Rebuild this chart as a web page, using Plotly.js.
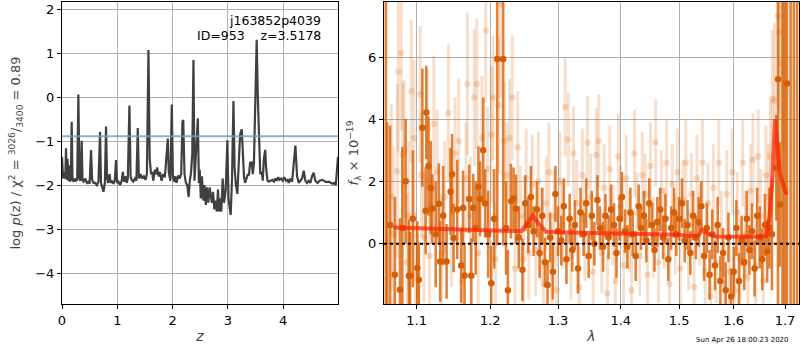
<!DOCTYPE html>
<html><head><meta charset="utf-8">
<script src="https://cdn.plot.ly/plotly-3.0.1.min.js"></script>
<style>html,body{margin:0;padding:0;background:#fff}#plot{width:800px;height:350px}</style>
</head><body><div id="plot"></div>
<script>
// ---- left panel: log p(z) ----
const zGrid = [0.00,0.02,0.04,0.06,0.072,0.085,0.10,0.115,0.13,0.145,0.16,0.175,0.19,0.21,0.23,0.25,0.275,0.296,0.315,0.335,0.356,0.37,0.39,0.42,0.45,0.48,0.50,0.525,0.545,0.57,0.60,0.63,0.66,0.688,0.705,0.73,0.75,0.775,0.796,0.815,0.835,0.86,0.88,0.90,0.93,0.955,0.977,0.995,1.02,1.05,1.08,1.10,1.12,1.15,1.17,1.19,1.219,1.24,1.26,1.29,1.32,1.345,1.37,1.39,1.42,1.45,1.48,1.51,1.535,1.563,1.585,1.61,1.63,1.65,1.68,1.70,1.72,1.745,1.77,1.80,1.83,1.86,1.89,1.913,1.93,1.96,1.985,2.005,2.03,2.05,2.07,2.10,2.13,2.155,2.178,2.192,2.215,2.24,2.265,2.29,2.31,2.33,2.355,2.377,2.395,2.42,2.44,2.456,2.475,2.49,2.51,2.53,2.555,2.575,2.60,2.62,2.645,2.67,2.69,2.71,2.73,2.755,2.775,2.80,2.82,2.84,2.86,2.88,2.905,2.93,2.96,2.99,3.01,3.035,3.05,3.075,3.10,3.12,3.14,3.17,3.195,3.22,3.25,3.27,3.29,3.31,3.33,3.36,3.38,3.40,3.43,3.45,3.47,3.495,3.52,3.54,3.56,3.585,3.61,3.63,3.65,3.674,3.69,3.715,3.74,3.77,3.80,3.83,3.86,3.88,3.91,3.93,3.96,3.99,4.02,4.05,4.08,4.10,4.13,4.16,4.18,4.22,4.25,4.28,4.31,4.34,4.37,4.40,4.43,4.46,4.49,4.52,4.55,4.58,4.62,4.66,4.70,4.74,4.78,4.82,4.86,4.89,4.92,4.95,4.99];
const logPz = [-1.36,-1.85,-1.70,-1.85,-1.16,-1.88,-1.40,-1.90,-1.55,-1.92,-1.85,-0.56,-1.88,-1.92,-1.85,-1.90,-1.88,0.06,-1.85,-1.90,-0.99,-1.88,-1.92,-1.85,-1.95,-1.92,-1.97,-1.20,-1.88,-1.95,-1.95,-2.00,-1.92,-0.79,-1.95,-2.05,-2.15,-1.95,-0.67,-1.85,-1.95,-1.75,-1.95,-1.90,-1.97,-1.88,-1.43,-1.95,-1.92,-2.00,-1.90,-1.70,-1.92,-1.80,-1.95,-1.85,-0.19,-1.80,-1.88,-1.92,-1.85,-1.90,-0.70,-1.85,-1.75,-1.85,-1.80,-1.88,-1.75,1.07,-1.40,-1.75,-1.70,-1.90,-1.65,-1.75,-1.60,-1.80,-1.70,-1.90,-1.75,-1.82,-1.30,-0.94,-1.70,-1.90,-0.17,-1.80,-1.92,-1.80,-1.95,-1.78,-1.85,-1.75,-0.56,-0.52,-1.75,-1.95,-2.00,-2.27,-1.90,-1.75,-1.30,0.84,-1.90,-1.40,-0.80,-0.48,-1.95,-1.65,-2.30,-1.80,-2.35,-2.00,-2.45,-2.05,-2.40,-2.05,-2.25,-2.40,-2.15,-2.55,-2.35,-2.60,-2.10,-2.60,-2.30,-2.60,-1.85,-2.40,-2.10,-0.98,-2.30,-2.55,-2.68,-1.80,-0.09,-1.60,-1.95,-2.20,-1.60,-0.85,-0.73,-1.20,-1.80,-1.95,-1.85,-1.75,-1.78,-1.50,-1.47,-1.75,-1.50,0.20,1.30,0.00,-1.00,-1.75,-1.70,-1.90,-1.40,-1.20,-1.60,-1.90,-1.92,-1.90,-1.88,-1.92,-1.85,-1.90,-1.82,-1.88,-1.85,-1.90,-1.82,-1.90,-1.88,-1.95,-1.85,-1.92,-1.60,-1.10,-1.80,-1.95,-1.90,-1.85,-1.67,-1.90,-1.95,-1.90,-1.95,-1.80,-1.72,-1.90,-1.95,-1.90,-1.88,-1.90,-1.93,-1.92,-1.95,-1.97,-1.95,-2.00,-1.36];
const chi2Level = -0.89;
const leftYTicks = [-4,-3,-2,-1,0,1,2];
const leftXTicks = [0,1,2,3,4];

// ---- right panel: spectrum ----
const darkWave = [1.0607,1.0624,1.066,1.072,1.0785,1.0815,1.0857,1.090,1.0915,1.095,1.1009,1.1028,1.1074,1.1117,1.1126,1.1155,1.1184,1.1205,1.125,1.1292,1.131,1.135,1.1396,1.1449,1.147,1.149,1.154,1.1594,1.162,1.164,1.1705,1.1733,1.176,1.1795,1.1833,1.1856,1.190,1.1927,1.197,1.2013,1.2055,1.2099,1.2184,1.2225,1.2252,1.2296,1.2334,1.2370,1.241,1.2465,1.2505,1.255,1.259,1.263,1.268,1.272,1.276,1.280,1.284,1.288,1.292,1.296,1.300,1.305,1.309,1.313,1.318,1.322,1.326,1.331,1.335,1.340,1.344,1.348,1.353,1.357,1.362,1.366,1.371,1.375,1.380,1.384,1.389,1.393,1.398,1.402,1.407,1.411,1.416,1.420,1.425,1.430,1.434,1.439,1.443,1.448,1.453,1.457,1.462,1.467,1.472,1.476,1.481,1.486,1.491,1.495,1.500,1.505,1.510,1.515,1.520,1.525,1.530,1.535,1.540,1.545,1.550,1.555,1.560,1.565,1.570,1.575,1.580,1.585,1.590,1.595,1.600,1.605,1.610,1.615,1.620,1.625,1.630,1.635,1.640,1.645,1.650,1.655,1.660,1.6645,1.669,1.674,1.6827,1.686,1.690,1.695,1.699,1.704,1.7113,1.7179,1.7245];
const darkFlux = [12,-2.5,0.6,-1.0,-1.48,0.5,2.01,-1.03,-1.03,0.8,-0.78,-1.16,3.73,1.06,4.22,2.5,1.80,1.13,0.3,1.28,-0.57,0.9,-0.57,1.67,2.23,0.18,1.1,-0.70,1.15,-1.02,1.44,-1.03,1.15,0.5,1.83,1.44,3.0,1.29,0.3,-1.27,0.8,5.94,5.94,0.5,-1.5,1.37,1.45,1.12,0.2,-0.84,1.3,0.6,1.5,0.4,1.1,-0.3,0.9,-0.6,-1.33,0.2,-0.9,1.6,0.4,0.1,1.2,-0.5,0.8,-0.2,0.6,-0.8,1.0,0.3,1.3,-0.4,0.9,0.0,1.4,0.5,-0.1,0.9,0.2,1.1,0.6,-0.3,0.8,1.5,0.4,-0.1,1.0,0.3,-0.4,1.2,0.5,0.9,0.1,1.3,0.6,-0.2,0.7,1.1,0.2,0.8,-0.5,0.5,1.0,0.3,0.8,1.3,0.1,0.6,-0.3,0.9,0.2,0.7,1.2,-0.4,0.5,-1.0,0.3,-0.7,0.6,-1.2,-0.3,-1.5,0.2,-1.7,-0.9,0.5,-1.2,0.1,-0.6,0.8,-0.2,0.4,-0.8,0.9,0.2,-0.5,0.6,-0.25,0.5,0.3,2.44,5.29,1.26,12,12,5.15,12,12,12];
const darkErr = [20,6.4,3.2,2.5,2.3,2.6,2.0,1.8,1.4,2.2,1.5,1.2,1.9,1.4,1.5,1.6,1.5,1.1,1.7,1.3,1.3,1.6,1.2,1.4,1.3,1.1,1.6,1.2,1.2,1.0,1.1,1.2,1.1,1.5,1.3,1.2,1.7,1.1,1.4,1.2,1.6,6,6,1.5,1.3,1.2,1.0,1.1,1.0,1.0,0.9,0.9,1.0,0.8,0.9,0.8,0.9,0.8,0.8,0.8,0.9,0.9,0.8,0.8,0.9,0.8,0.8,0.7,0.8,0.8,0.8,0.7,0.8,0.7,0.8,0.7,0.8,0.7,0.8,0.7,0.7,0.8,0.7,0.8,0.7,0.8,0.7,0.7,0.8,0.7,0.8,0.7,0.7,0.8,0.7,0.8,0.7,0.7,0.8,0.7,0.7,0.8,0.7,0.7,0.8,0.7,0.7,0.8,0.7,0.8,0.7,0.8,0.7,0.8,0.8,0.8,0.8,0.8,0.8,0.8,0.9,0.8,0.8,0.9,0.8,0.9,0.8,0.9,0.9,0.8,0.9,0.9,0.8,0.9,0.9,0.9,1.0,1.0,1.0,1.0,1.3,1.8,1.7,20,2.0,20,20,20,20,20,20];

const lightWave = [1.0675,1.0705,1.0751,1.0763,1.0801,1.082,1.084,1.0875,1.0895,1.093,1.0965,1.0985,1.1045,1.106,1.1095,1.114,1.117,1.1225,1.127,1.1325,1.137,1.142,1.146,1.151,1.156,1.1605,1.166,1.168,1.172,1.1775,1.181,1.183,1.188,1.1935,1.196,1.2015,1.204,1.2075,1.212,1.2145,1.220,1.2235,1.2275,1.2315,1.2355,1.2395,1.2435,1.248,1.252,1.256,1.261,1.266,1.270,1.274,1.278,1.282,1.286,1.290,1.294,1.298,1.303,1.307,1.311,1.316,1.320,1.324,1.329,1.333,1.338,1.342,1.346,1.351,1.355,1.360,1.364,1.369,1.373,1.378,1.382,1.387,1.391,1.396,1.400,1.405,1.409,1.414,1.418,1.423,1.427,1.432,1.436,1.441,1.445,1.450,1.455,1.459,1.464,1.469,1.474,1.478,1.483,1.488,1.493,1.497,1.502,1.507,1.512,1.517,1.522,1.527,1.532,1.537,1.542,1.547,1.552,1.557,1.562,1.567,1.572,1.577,1.582,1.587,1.592,1.597,1.602,1.607,1.612,1.617,1.622,1.627,1.632,1.637,1.642,1.647,1.652,1.657,1.662,1.667,1.671,1.6746,1.679,1.686,1.688,1.692,1.697];
const lightFlux = [1.5,0.3,2.33,5.53,6.13,2.87,3.06,-0.6,0.9,4.9,3.4,-1.0,4.8,2.2,0.2,3.7,-0.4,3.85,2.3,-0.3,1.5,4.2,0.5,2.9,3.3,-1.2,2.1,5.13,0.9,4.7,5.13,-0.3,3.4,6.85,2.4,3.5,4.7,-0.5,4.45,7.7,3.3,2.2,3.4,4.7,-0.8,3.1,0.9,-0.5,2.1,-0.3,1.9,-0.2,2.0,0.3,-1.3,1.3,2.3,-0.7,0.9,-1.5,2.0,0.6,4.4,3.35,-0.4,2.9,1.3,-1.4,2.2,0.1,3.25,1.5,-0.9,2.85,3.3,-0.3,1.8,-1.6,2.4,0.6,-1.2,2.8,1.2,-0.7,2.1,0.4,-1.5,2.9,1.0,-0.4,2.2,1.6,-1.0,2.5,0.2,3.25,-0.6,1.7,0.5,2.6,-1.3,1.9,0.3,2.3,-0.8,1.4,2.6,-0.2,1.6,-1.4,2.1,0.6,2.6,-0.9,1.3,-1.7,1.8,-0.6,2.6,0.4,-1.3,1.6,-0.9,2.3,-1.5,1.0,-0.5,2.6,0.3,-1.1,1.7,2.7,-0.7,2.8,0.9,-1.2,2.2,1.5,2.8,4.67,4.6,7.33,6.8,5.8,5.5];
const lightErr = [3,2.8,2.8,2.6,2.5,2.3,2.2,2.2,2.4,2.3,2.5,2.0,2.2,2.0,2.1,1.9,1.8,2.2,2.0,1.9,1.8,2.2,1.9,1.8,2.0,1.7,1.8,2.3,1.9,2.2,2.1,1.8,2.0,2.3,2.0,2.2,2.0,1.8,2.2,3.0,1.9,1.7,1.9,2.0,1.8,1.8,1.6,1.7,1.6,1.5,1.6,1.5,1.6,1.5,1.4,1.5,1.6,1.4,1.5,1.4,1.6,1.4,1.6,1.5,1.4,1.5,1.4,1.3,1.5,1.3,1.5,1.4,1.3,1.5,1.5,1.3,1.4,1.3,1.4,1.3,1.3,1.4,1.3,1.3,1.4,1.3,1.3,1.4,1.3,1.3,1.4,1.3,1.3,1.4,1.3,1.4,1.3,1.3,1.3,1.4,1.3,1.3,1.3,1.4,1.3,1.3,1.4,1.3,1.3,1.3,1.4,1.3,1.4,1.3,1.3,1.3,1.4,1.3,1.4,1.3,1.3,1.4,1.3,1.4,1.3,1.3,1.3,1.4,1.4,1.4,1.5,1.5,1.5,1.5,1.5,1.5,1.6,1.7,1.8,2.2,2.5,3,2.8,2.6,2.5];

const modelWave = [1.07,1.10,1.15,1.20,1.245,1.255,1.262,1.27,1.282,1.30,1.35,1.40,1.45,1.50,1.515,1.535,1.542,1.552,1.565,1.60,1.64,1.6633,1.669,1.674,1.680,1.684,1.6895,1.7025];
const modelFlux = [0.52,0.50,0.47,0.44,0.40,0.70,0.90,0.65,0.38,0.37,0.35,0.32,0.30,0.29,0.25,0.27,0.45,0.32,0.23,0.22,0.22,0.24,0.9,1.85,4.0,3.35,2.28,1.58];
const rightYTicks = [0,2,4,6];
const rightXTicks = [1.1,1.2,1.3,1.4,1.5,1.6,1.7];

const orange = 'rgb(214,94,6)';
const tickFont = {family:'DejaVu Sans', size:13, color:'#000'};

const traces = [
  {x:zGrid, y:logPz, xaxis:'x', yaxis:'y', mode:'lines', line:{color:'#404040', width:2.2}, hoverinfo:'skip'},
  {x:lightWave, y:lightFlux, xaxis:'x2', yaxis:'y2', mode:'markers',
   marker:{color:'rgba(217,95,2,0.2)', size:6.5},
   error_y:{type:'data', array:lightErr, color:'rgba(217,95,2,0.2)', thickness:3, width:0}},
  {x:darkWave, y:darkFlux, xaxis:'x2', yaxis:'y2', mode:'markers',
   marker:{color:orange, size:6.5},
   error_y:{type:'data', array:darkErr, color:'rgba(217,95,2,0.78)', thickness:2.6, width:0}},
  {x:modelWave, y:modelFlux, xaxis:'x2', yaxis:'y2', mode:'lines', line:{color:'rgba(255,30,0,0.7)', width:4}},
];

const axisCommon = {showline:true, mirror:true, linecolor:'#000', linewidth:1, ticks:'outside', ticklen:4, tickcolor:'#000',
  showgrid:true, gridcolor:'#b0b0b0', gridwidth:1, zeroline:false, tickfont:tickFont};

const layout = {
  width:800, height:350, margin:{l:0, r:0, t:2, b:46}, showlegend:false,
  paper_bgcolor:'#fff', plot_bgcolor:'#fff',
  xaxis: Object.assign({}, axisCommon, {domain:[62/800, 338/800], range:[0, 4.99], tickvals:leftXTicks,
    title:{text:'<i>z</i>', font:{family:'DejaVu Sans', size:14}, standoff:4}, anchor:'y'}),
  yaxis: Object.assign({}, axisCommon, {range:[-4.7, 2.16], tickvals:leftYTicks, ticktext:leftYTicks.map(v=>v<0?'\u2212'+Math.abs(v):String(v)),
    title:{text:'log <i>p</i>(z) / χ<sup>2</sup> = <sup>3026</sup>/<sub>3400</sub> = 0.89', font:{family:'DejaVu Sans', size:13}, standoff:11}, anchor:'x'}),
  xaxis2: Object.assign({}, axisCommon, {domain:[384/800, 799/800], type:'log', range:[0.02462, 0.23763], tickvals:rightXTicks, ticktext:rightXTicks.map(v=>v.toFixed(1)),
    title:{text:'<i>λ</i>', font:{family:'DejaVu Sans', size:14}, standoff:4}, anchor:'y2'}),
  yaxis2: Object.assign({}, axisCommon, {range:[-1.94, 7.77], tickvals:rightYTicks,
    title:{text:'<i>f</i><sub>λ</sub> × 10<sup>−19</sup>', font:{family:'DejaVu Sans', size:13}, standoff:6}, anchor:'x2'}),
  shapes:[
    {type:'line', xref:'x domain', yref:'y', x0:0, x1:1, y0:chi2Level, y1:chi2Level, line:{color:'rgba(100,160,210,0.8)', width:2}, layer:'above'},
    {type:'line', xref:'x2 domain', yref:'y2', x0:0, x1:1, y0:0, y1:0, line:{color:'#000', width:2, dash:'dot'}, layer:'above'}
  ],
  annotations:[
    {xref:'x domain', yref:'y domain', x:0.946, y:0.94, xanchor:'right', yanchor:'middle', showarrow:false, text:'j163852p4039', font:{family:'DejaVu Sans', size:12.5, color:'#000'}},
    {xref:'x domain', yref:'y domain', x:0.946, y:0.89, xanchor:'right', yanchor:'middle', showarrow:false, text:'ID=953    z=3.5178', font:{family:'DejaVu Sans', size:12.5, color:'#000'}},
    {xref:'paper', yref:'paper', x:742/800, y:-0.119, xanchor:'center', yanchor:'middle', showarrow:false, text:'Sun Apr 26 18:00:23 2020', font:{family:'DejaVu Sans', size:7, color:'#000'}}
  ]
};
Plotly.newPlot('plot', traces, layout, {staticPlot:true, displayModeBar:false});
</script></body></html>
